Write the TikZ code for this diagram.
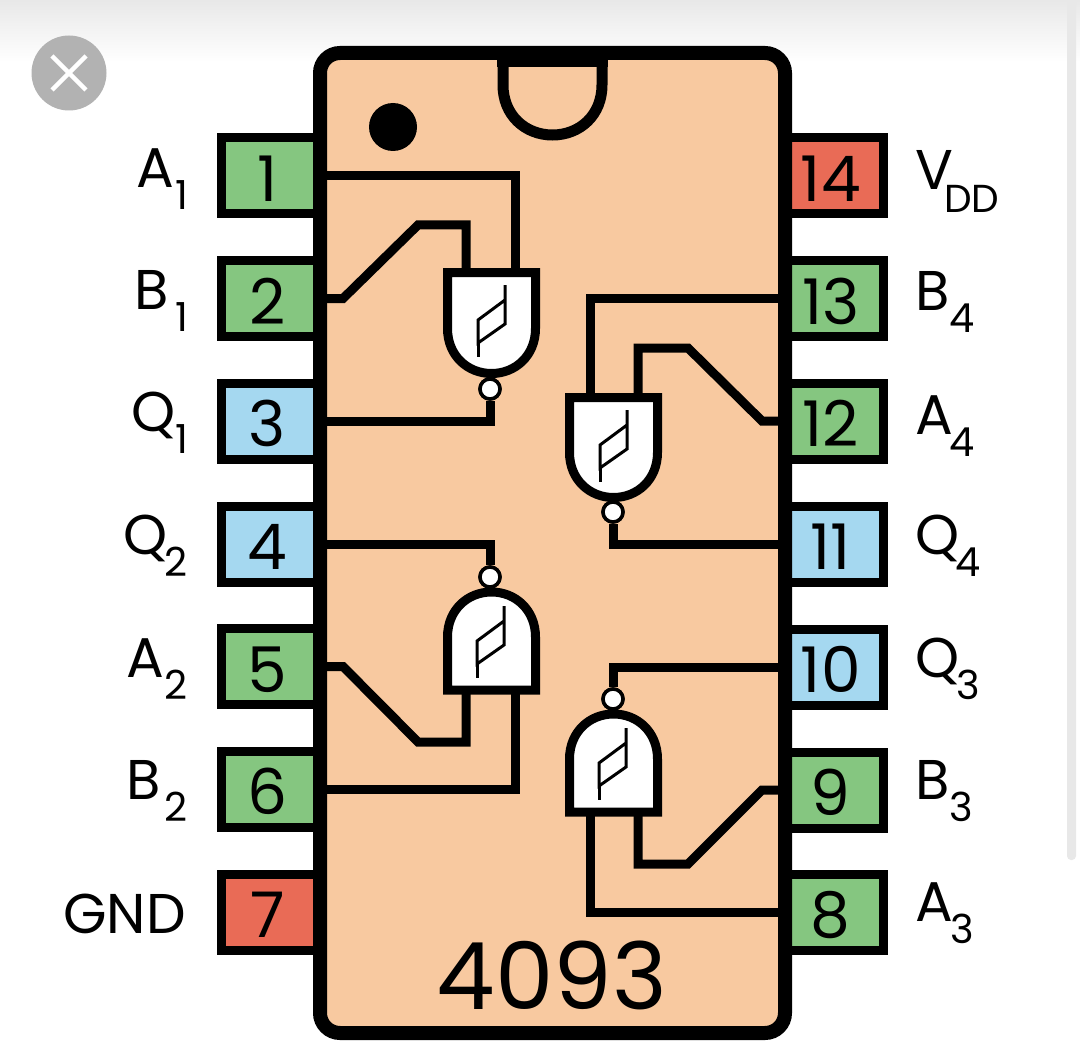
\documentclass[tikz,border=0pt]{standalone}
\usepackage{fontspec}
\setmainfont{Poppins}
\definecolor{peach}{HTML}{F8C9A0}
\definecolor{pgreen}{HTML}{85C680}
\definecolor{pblue}{HTML}{A5D8F0}
\definecolor{pred}{HTML}{E96B56}
\definecolor{btn}{HTML}{B2B2B2}
\definecolor{bar}{HTML}{E8E8E8}
\tikzset{
  pinbase/.style={draw=black,line width=9pt,inner sep=0pt,minimum height=76pt,minimum width=98.5pt,
    text height=51pt,text depth=-2pt,font=\fontsize{63}{63}\selectfont,text=black,
    execute at begin node=\kern-3.5pt,execute at end node=\kern3.5pt},
  lpin/.style={pinbase},
  rpin/.style={pinbase},
  wire/.style={draw=black,line width=9pt,miter limit=10},
  gatebody/.style={draw=black,fill=white,line width=9pt,line join=miter},
  hyst/.style={draw=black,line width=3pt},
  bubble/.style={circle,draw=black,fill=white,line width=3.5pt,minimum size=20pt,inner sep=0pt},
  lab/.style={inner sep=0pt,font=\fontsize{56}{56}\selectfont,text=black},
}
\newcommand{\sublab}[3]{#1\kern#3pt\raisebox{-22pt}{\fontsize{40}{40}\selectfont #2}}
\newcommand{\gateshape}[4]{% centre x, flat-side y, direction, height
  \begin{scope}[shift={(#1,#2)},yscale=#3]
    \draw[gatebody] (-44,0) -- (44,0) -- (44,#4-45)
      .. controls (44,#4-18) and (24,#4) .. (0,#4)
      .. controls (-24,#4) and (-44,#4-18) .. (-44,#4-45) -- cycle;
  \end{scope}}
\newcommand{\hystsym}[2]{% centre
  \begin{scope}[shift={(#1,#2)}]
    \draw[hyst] (14,-36) -- (14,3) -- (-13,22) -- (-13,-1) -- (14,-21);
    \draw[hyst] (-13,22) -- (-13,36);
  \end{scope}}
\begin{document}
\begin{tikzpicture}[x=1pt,y=-1pt]
\useasboundingbox (0,0) rectangle (1080,1062);
\fill[white] (0,0) rectangle (1080,1062);
\shade[top color=bar,bottom color=white] (0,0) rectangle (1080,62);
\fill[bar,rounded corners=4pt] (1067,-10) rectangle (1076,860);
% close button
\node[circle,fill=btn,minimum size=75pt,inner sep=0pt] (close) at (69,73) {};
\draw[white,line width=4.5pt] (52,56) -- (86,90) (86,56) -- (52,90);
% body fill
\fill[peach,rounded corners=20pt] (320,53) rectangle (785,1033);
% pin nodes
\node[lpin,fill=pgreen] (p1) at (270.75,175.5) {1};
\node[lpin,fill=pgreen] (p2) at (270.75,298.5) {2};
\node[lpin,fill=pblue]  (p3) at (270.75,421) {3};
\node[lpin,fill=pblue]  (p4) at (270.75,544) {4};
\node[lpin,fill=pgreen] (p5) at (270.75,666.5) {5};
\node[lpin,fill=pgreen] (p6) at (270.75,789) {6};
\node[lpin,fill=pred]   (p7) at (270.75,912) {7};
\node[rpin,fill=pgreen] (p8) at (834.25,912) {8};
\node[rpin,fill=pgreen] (p9) at (834.25,790) {9};
\node[rpin,fill=pblue]  (p10) at (834.25,667) {10};
\node[rpin,fill=pblue]  (p11) at (834.25,544) {11};
\node[rpin,fill=pgreen] (p12) at (834.25,421) {12};
\node[rpin,fill=pgreen] (p13) at (834.25,298.5) {13};
\node[rpin,fill=pred]   (p14) at (834.25,175.5) {14};
% gate terminals
\coordinate (g1a) at (515,272);
\coordinate (g1b) at (466,272);
\coordinate (k1) at (343,298.5);
\coordinate (k2) at (418,225);
\coordinate (g4a) at (590,397);
\coordinate (g4b) at (638,397);
\coordinate (k3) at (762,421);
\coordinate (k4) at (688,348);
\coordinate (g2a) at (466,690);
\coordinate (g2b) at (515,690);
\coordinate (k5) at (343,666.5);
\coordinate (k6) at (418,742);
\coordinate (g3a) at (638,812);
\coordinate (g3b) at (590,812);
\coordinate (k7) at (762,790);
\coordinate (k8) at (688,864);
% bubbles placed first as named nodes
\node[bubble] (b1) at (490,389) {};
\node[bubble] (b4) at (613,512) {};
\node[bubble] (b2) at (490,577) {};
\node[bubble] (b3) at (613,699) {};
% connectors
\draw[wire] (p1.east) -| (g1a);
\draw[wire] (p2.east) -- (k1) -- (k2) -| (g1b);
\draw[wire] (p3.east) -| (b1);
\draw[wire] (p13.west) -| (g4a);
\draw[wire] (p12.west) -- (k3) -- (k4) -| (g4b);
\draw[wire] (p11.west) -| (b4);
\draw[wire] (p4.east) -| (b2);
\draw[wire] (p5.east) -- (k5) -- (k6) -| (g2a);
\draw[wire] (p6.east) -| (g2b);
\draw[wire] (p10.west) -| (b3);
\draw[wire] (p9.west) -- (k7) -- (k8) -| (g3a);
\draw[wire] (p8.west) -| (g3b);
% gates
\gateshape{491.5}{272.5}{1}{101}
\gateshape{613.5}{397.5}{1}{100}
\gateshape{491.5}{690}{-1}{98}
\gateshape{613.5}{812}{-1}{98}
\hystsym{491}{321}
\hystsym{613}{446}
\hystsym{490}{642}
\hystsym{612}{764}
\node[bubble] at (b1) {};
\node[bubble] at (b4) {};
\node[bubble] at (b2) {};
\node[bubble] at (b3) {};
% body outline and notch
\draw[black,line width=14pt,rounded corners=20pt] (320,53) rectangle (785,1033);
\fill[black] (497,50) rectangle (608,67);
\draw[black,line width=11pt] (503,60) -- (503,85)
  .. controls (503,115) and (525,135) .. (552.5,135)
  .. controls (580,135) and (602,115) .. (602,85) -- (602,60);
\node[circle,fill=black,minimum size=48pt,inner sep=0pt] (dot) at (393,127) {};
\node[inner sep=0pt,font=\fontsize{93}{93}\selectfont,text=black,anchor=base] (part) at (552,1009) {4093};
% left labels
\node[lab,anchor=base east] (l1) at (188,188) {\sublab{A}{1}{1}};
\node[lab,anchor=base east] (l2) at (188,309) {\sublab{B}{1}{6}};
\node[lab,anchor=base east] (l3) at (188,431) {\sublab{Q}{1}{-1}};
\node[lab,anchor=base east] (l4) at (188,554) {\sublab{Q}{2}{-3}};
\node[lab,anchor=base east] (l5) at (188,677) {\sublab{A}{2}{1}};
\node[lab,anchor=base east] (l6) at (188,799) {\sublab{B}{2}{4}};
\node[lab,anchor=base east] (l7) at (186,933) {GND};
% right labels
\node[lab,anchor=base west] (r14) at (915,190) {V\kern-9pt\raisebox{-22pt}{\fontsize{39}{39}\selectfont DD}};
\node[lab,anchor=base west] (r13) at (915,310) {\sublab{B}{4}{0}};
\node[lab,anchor=base west] (r12) at (915,434) {\sublab{A}{4}{-3}};
\node[lab,anchor=base west] (r11) at (915,554) {\sublab{Q}{4}{-4}};
\node[lab,anchor=base west] (r10) at (915,677) {\sublab{Q}{3}{-3}};
\node[lab,anchor=base west] (r9) at (915,799) {\sublab{B}{3}{0}};
\node[lab,anchor=base west] (r8) at (915,921) {\sublab{A}{3}{-2}};
\end{tikzpicture}
\end{document}
